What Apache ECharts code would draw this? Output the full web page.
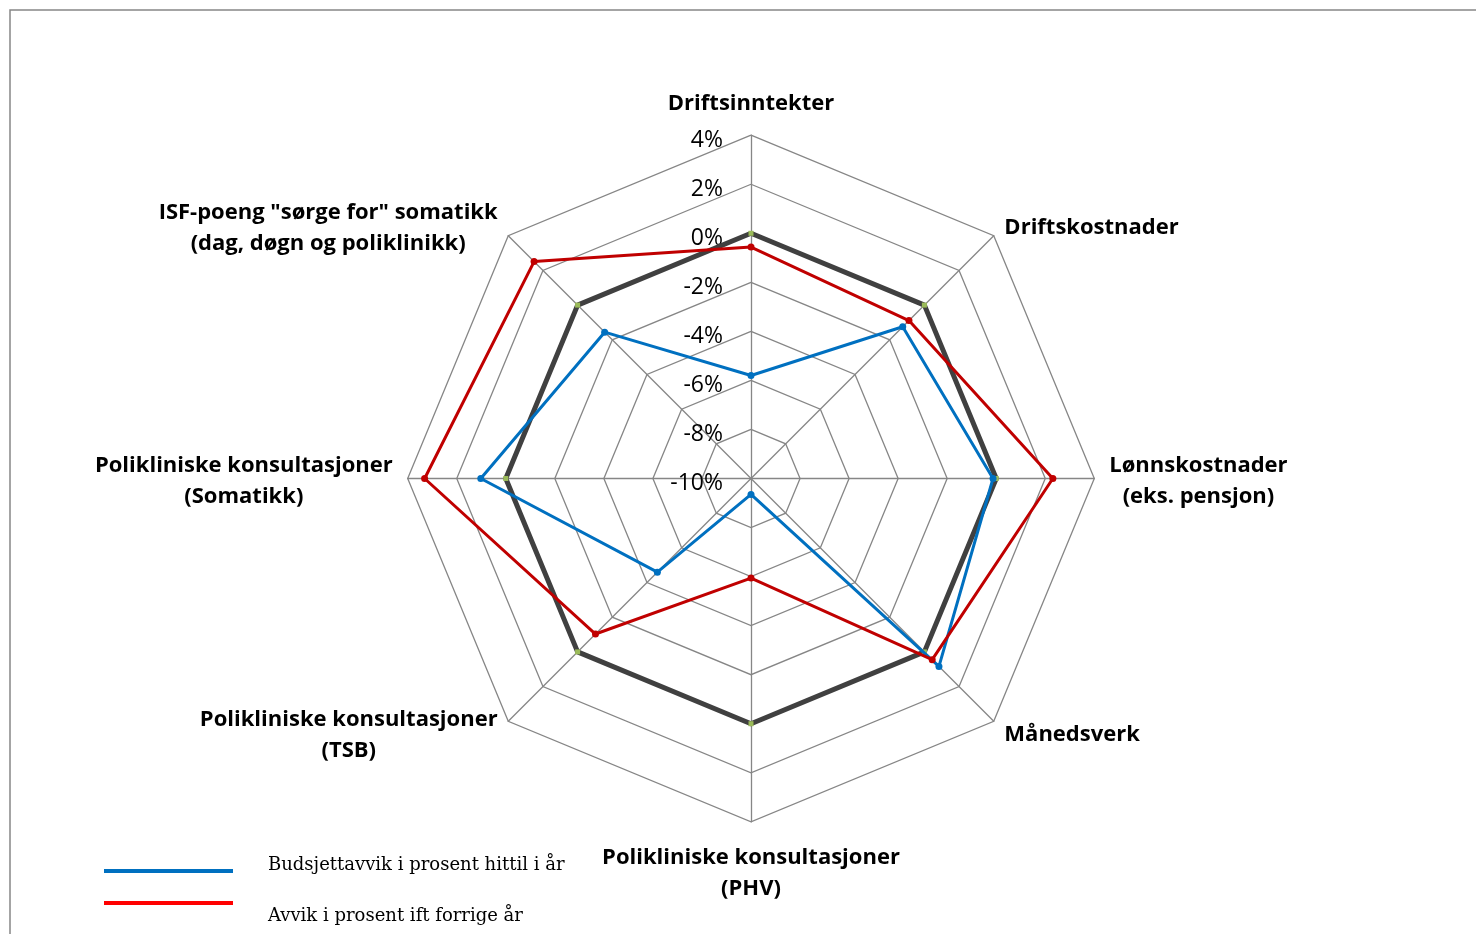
<!DOCTYPE html>
<html>
<head>
<meta charset="utf-8">
<script src="https://cdn.jsdelivr.net/npm/echarts@6/dist/echarts.min.js"></script>
<style>
  html, body { margin: 0; padding: 0; background: #ffffff; }
  #chart { width: 1476px; height: 934px; }
</style>
</head>
<body>
<div id="chart"></div>
<script>
// Categories listed clockwise starting from the top
const categories = [
  'Driftsinntekter',
  'Driftskostnader',
  'Lønnskostnader\n(eks. pensjon)',
  'Månedsverk',
  'Polikliniske konsultasjoner\n(PHV)',
  'Polikliniske konsultasjoner\n(TSB)',
  'Polikliniske konsultasjoner\n(Somatikk)',
  'ISF-poeng "sørge for" somatikk\n(dag, døgn og poliklinikk)'
];
const budsjettavvik = [-5.8, -1.25, -0.13, 0.84, -9.35, -4.6, 1.02, -1.56];
const avvikForrigeAr = [-0.56, -0.89, 2.31, 0.45, -5.94, -1.03, 3.31, 2.51];
const nullLinje = [0, 0, 0, 0, 0, 0, 0, 0];
const seriesNames = ['Budsjettavvik i prosent hittil i år', 'Avvik i prosent ift forrige år', 'Null'];
const axisMin = -10, axisMax = 4;

// ECharts places radar indicators counter-clockwise: reorder
const order = [0, 7, 6, 5, 4, 3, 2, 1];
const reorder = arr => order.map(i => arr[i]);

const indicators = order.map((ci, k) => {
  const ind = { name: categories[ci], min: axisMin, max: axisMax };
  if (ci === 0) ind.nameGap = 12;
  if (ci === 4) ind.nameGap = 14;
  if (k === 0) {
    ind.axisLabel = {
      show: true, margin: 28,
      formatter: v => '{v|' + v + '%}',
      rich: { v: { fontFamily: 'Open Sans', fontSize: 23, color: '#000', lineHeight: 26, padding: [10, 0, 0, 0] } },
      fontFamily: 'Open Sans', fontSize: 23, color: '#000',
      showMinLabel: true, showMaxLabel: true
    };
  }
  return ind;
});

const legendText = (pad) => ({
  fontFamily: 'DejaVu Serif', fontSize: 18, color: '#000',
  rich: { t: { fontFamily: 'DejaVu Serif', fontSize: 18, color: '#000', lineHeight: 24, padding: pad } }
});

const chart = echarts.init(document.getElementById('chart'), null, { renderer: 'canvas' });
chart.setOption({
  backgroundColor: '#ffffff',
  animation: false,
  graphic: [{
    type: 'rect', shape: { x: 10, y: 10, width: 1500, height: 1000 },
    style: { fill: 'none', stroke: '#868686', lineWidth: 1.5 }, silent: true, z: -1
  }],
  legend: [{
    left: 104, top: 856, padding: 0, orient: 'vertical', selectedMode: false,
    icon: 'rect', itemWidth: 129, itemHeight: 4,
    data: [{ name: seriesNames[0], itemStyle: { color: '#0070C0' } }],
    formatter: name => '{t|' + name + '}',
    textStyle: legendText([0, 0, 12, 30])
  }, {
    left: 104, top: 881, padding: 0, orient: 'vertical', selectedMode: false,
    icon: 'rect', itemWidth: 129, itemHeight: 4,
    data: [{ name: seriesNames[1], itemStyle: { color: '#FF0000' } }],
    formatter: name => '{t|' + name + '}',
    textStyle: legendText([26, 0, 0, 30])
  }],
  radar: {
    center: [751, 478.5],
    radius: 343.3,
    startAngle: 90,
    shape: 'polygon',
    splitNumber: 7,
    nameGap: 15,
    indicator: indicators,
    axisName: {
      color: '#000',
      fontFamily: 'Open Sans',
      fontWeight: 'bold',
      fontSize: 22,
      lineHeight: 31,
      padding: [6, 0, 0, 0],
      formatter: name => name.split('\n').map(s => '{c|' + s + '}').join('\n'),
      rich: { c: { align: 'center', fontFamily: 'Open Sans', fontWeight: 'bold', fontSize: 22, lineHeight: 31, color: '#000' } }
    },
    axisLine: { lineStyle: { color: '#868686', width: 1.3 } },
    splitLine: { lineStyle: { color: '#868686', width: 1.3 } },
    splitArea: { show: false },
    axisTick: { show: false },
    axisLabel: { show: false }
  },
  series: [{
    type: 'radar', name: seriesNames[2], z: 2,
    symbol: 'rect', symbolSize: 5,
    itemStyle: { color: '#9BBB59' },
    lineStyle: { color: '#404040', width: 5 },
    data: [{ name: seriesNames[2], value: reorder(nullLinje) }]
  }, {
    type: 'radar', name: seriesNames[0], z: 3,
    symbol: 'circle', symbolSize: 7,
    itemStyle: { color: '#0070C0' },
    lineStyle: { color: '#0070C0', width: 3 },
    data: [{ name: seriesNames[0], value: reorder(budsjettavvik) }]
  }, {
    type: 'radar', name: seriesNames[1], z: 4,
    symbol: 'circle', symbolSize: 7,
    itemStyle: { color: '#C00000' },
    lineStyle: { color: '#C00000', width: 3 },
    data: [{ name: seriesNames[1], value: reorder(avvikForrigeAr) }]
  }]
});
</script>
</body>
</html>
